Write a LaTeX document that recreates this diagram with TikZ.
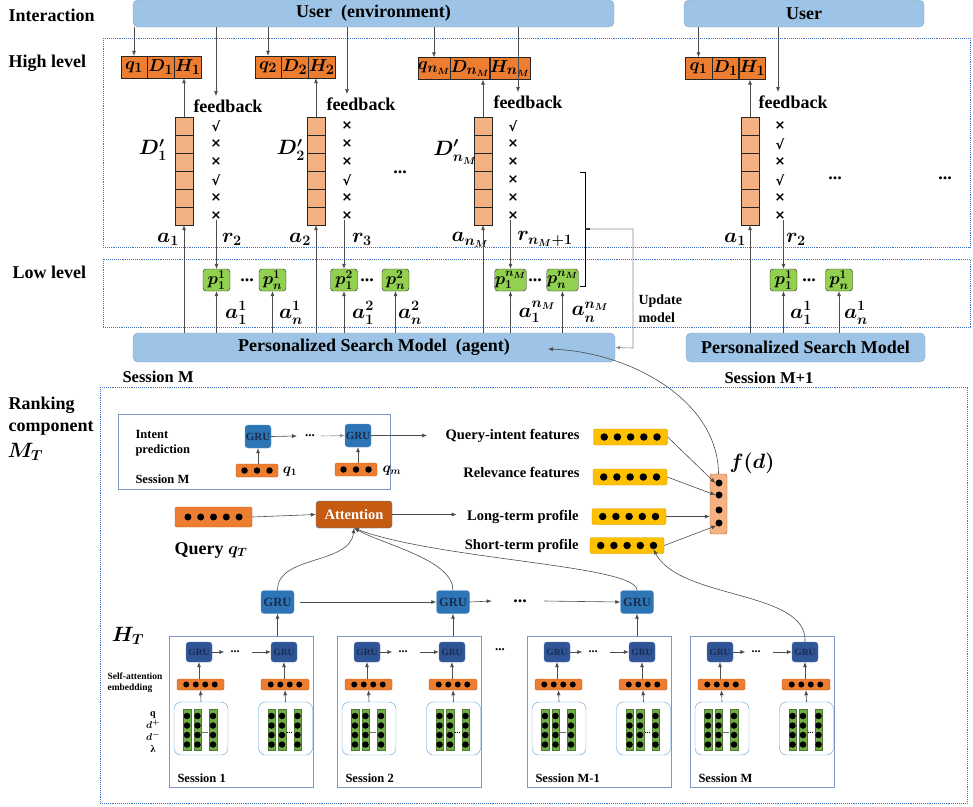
\documentclass[tikz,border=0pt]{standalone}
\usepackage{amsmath}
\usepackage{bm}
\usepackage[no-math]{fontspec}
\setmainfont{Liberation Serif}
\newfontfamily\symf{DejaVu Sans}
\usepackage{tikz}
\usetikzlibrary{positioning, arrows.meta, calc}

\definecolor{barblue}{HTML}{9DC3E6}
\definecolor{zoneblue}{HTML}{4472C4}
\definecolor{qorange}{HTML}{ED7D31}
\definecolor{cellorange}{HTML}{F4B183}
\definecolor{pgreen}{HTML}{92D050}
\definecolor{grublue}{HTML}{2E75B6}
\definecolor{grudark}{HTML}{2F5597}
\definecolor{grutext}{HTML}{1A2B4F}
\definecolor{attorange}{HTML}{C55A11}
\definecolor{featyellow}{HTML}{FFC000}
\definecolor{boxgray}{HTML}{7F96C8}
\definecolor{matblue}{HTML}{5B9BD5}
\definecolor{colgreen}{HTML}{70AD47}

\begin{document}
\begin{tikzpicture}[x=1pt, y=-1pt,
	lbl/.style={font=\boldmath\bfseries\fontsize{18}{20}\selectfont},
	mlbl/.style={font=\boldmath\fontsize{20}{22}\selectfont},
	smlbl/.style={font=\bfseries\fontsize{14.5}{18}\selectfont},
	tnlbl/.style={font=\bfseries\fontsize{12.5}{15}\selectfont},
	ubar/.style={draw=barblue!85!black, fill=barblue, rounded corners=5pt, inner sep=0pt},
	zone/.style={draw=zoneblue, densely dotted, line width=0.9pt},
	qdh/.style={draw=black!85, fill=qorange, minimum width=26.5pt, minimum height=22pt, inner sep=0pt, font=\boldmath\fontsize{19}{20}\selectfont},
	cell/.style={draw=black!85, fill=cellorange, minimum width=18pt, minimum height=18pt, inner sep=0pt},
	pbox/.style={draw=black!85, fill=pgreen, rounded corners=3pt, minimum width=27pt, minimum height=22pt, inner sep=0pt, font=\boldmath\fontsize{17.5}{18}\selectfont},
	chk/.style={font=\symf\bfseries\fontsize{13}{14}\selectfont, inner sep=0pt},
	gru/.style={fill=grublue, draw=grublue!75!white, rounded corners=3pt, inner sep=0pt, text=grutext, font=\bfseries\fontsize{12.5}{13}\selectfont, minimum width=33pt, minimum height=23pt},
	sgru/.style={gru, fill=grudark, draw=grudark!75!white, minimum width=26pt, minimum height=20pt, font=\bfseries\fontsize{9.5}{10}\selectfont},
	emb/.style={fill=qorange, draw=attorange, rounded corners=1.5pt, inner sep=0pt},
	feat/.style={fill=featyellow, draw=featyellow!80!black, rounded corners=2pt, minimum width=74pt, minimum height=16pt, inner sep=0pt},
	bdot/.style={circle, fill=black, inner sep=0pt, minimum size=6pt},
	arr/.style={-{Latex[length=5pt,width=4pt]}, black!70, line width=0.6pt},
	]
	\useasboundingbox (0,0) rectangle (973,806);
	
	% bars
	\node[ubar, lbl, minimum width=481pt, minimum height=27pt] (userL) at (373.5,13.5) {User\ \ (environment)};
	\node[ubar, lbl, minimum width=240pt, minimum height=27pt] (userR) at (804,13.5) {User};
	\node[ubar, lbl, minimum width=482pt, minimum height=29pt] (psmL) at (374,347.5) {Personalized Search Model\ \ (agent)};
	\node[ubar, lbl, minimum width=239pt, minimum height=29pt] (psmR) at (805.5,347.5) {Personalized Search Model};
	
	% zones
	\draw[zone] (103,38) rectangle (970,247);
	\draw[zone] (103,259) rectangle (970,327);
	\draw[zone] (100,387) rectangle (967,803);
	
	\node[lbl, anchor=west] (tInter) at (5,15) {Interaction};
	\node[lbl, anchor=west] (tHigh) at (5,63) {High level};
	\node[lbl, anchor=west] (tLow) at (9,272) {Low level};
	\node[lbl, anchor=west] (tRank1) at (5,405) {Ranking};
	\node[lbl, anchor=west] (tRank2) at (5,428) {component};
	\node[mlbl, anchor=west] (tRank3) at (4,452) {$\bm{M_T}$};
	\node[lbl, font=\bfseries\fontsize{16.5}{18}\selectfont, anchor=west] (tSessM) at (119,377) {Session M};
	\node[lbl, font=\bfseries\fontsize{16.5}{18}\selectfont, anchor=west] (tSessN) at (721,378) {Session M+1};
	
	% session M -- query 1
	\node[qdh] (qA) at (134,67) {$\bm{q_1}$};
	\node[qdh, right=0pt of qA] (dA) {$\bm{D_1}$};
	\node[qdh, right=0pt of dA] (hA) {$\bm{H_1}$};
	\foreach \i/\m in {1/√,2/×,3/×,4/√,5/×,6/×} {
		\node[cell] (cA\i) at (184,108+18*\i) {};
		\node[chk] (kA\i) at (216,108+18*\i) {\m};
	}
	\node[mlbl] (dpA) at (153,150) {$\bm{D'_1}$};
	\node[lbl] (fbA) at (228,106) {feedback};
	\node[mlbl] (aA) at (168,239) {$\bm{a_1}$};
	\node[mlbl] (rA) at (232,239) {$\bm{r_2}$};
	\node[pbox] (pA1) at (216.5,280) {$\bm{p_1^1}$};
	\node[lbl] (eA) at (247,280) {...};
	\node[pbox] (pAn) at (272.5,280) {$\bm{p_n^1}$};
	\node[mlbl] (aA1) at (236,313) {$\bm{a_1^1}$};
	\node[mlbl] (aAn) at (291,313) {$\bm{a_n^1}$};
	\draw[arr] (userL.south -| qA.north) -- (qA.north);
	\draw[arr] (userL.south -| kA1) -- (kA1 |- fbA.north);
	\draw[arr] (cA1.north) -- (cA1.north |- hA.south);
	\draw[arr] (psmL.north -| cA6.south) -- (cA6.south);
	\draw[arr] (kA6.south -| pA1.north) -- (pA1.north);
	\draw[arr] (psmL.north -| pA1.south) -- (pA1.south);
	\draw[arr] (psmL.north -| pAn.south) -- (pAn.south);
	
	% session M -- query 2
	\node[qdh] (qB) at (268,67) {$\bm{q_2}$};
	\node[qdh, right=0pt of qB] (dB) {$\bm{D_2}$};
	\node[qdh, right=0pt of dB] (hB) {$\bm{H_2}$};
	\foreach \i/\m in {1/×,2/×,3/×,4/√,5/×,6/×} {
		\node[cell] (cB\i) at (316,108+18*\i) {};
		\node[chk] (kB\i) at (347,108+18*\i) {\m};
	}
	\node[mlbl] (dpB) at (291,150) {$\bm{D'_2}$};
	\node[lbl] (fbB) at (361,104) {feedback};
	\node[mlbl] (aB) at (300,239) {$\bm{a_2}$};
	\node[mlbl] (rB) at (362,239) {$\bm{r_3}$};
	\node[pbox] (pB1) at (344,280) {$\bm{p_1^2}$};
	\node[lbl] (eB) at (367,280) {...};
	\node[pbox] (pBn) at (395.5,280) {$\bm{p_n^2}$};
	\node[mlbl] (aB1) at (363,313) {$\bm{a_1^2}$};
	\node[mlbl] (aBn) at (410,313) {$\bm{a_n^2}$};
	\draw[arr] (userL.south -| qB.north) -- (qB.north);
	\draw[arr] (userL.south -| kB1) -- (kB1 |- fbB.north);
	\draw[arr] (cB1.north) -- (cB1.north |- hB.south);
	\draw[arr] (psmL.north -| cB6.south) -- (cB6.south);
	\draw[arr] (kB6.south -| pB1.north) -- (pB1.north);
	\draw[arr] (psmL.north -| pB1.south) -- (pB1.south);
	\draw[arr] (psmL.north -| pBn.south) -- (pBn.south);
	\node[lbl] (eAB) at (400,172) {...};
	
	% session M -- query n_M
	\node[qdh, minimum width=30pt] (qC) at (434,68.5) {$\bm{q_{n_M}}$};
	\node[qdh, minimum width=28pt, right=0pt of qC] (dC) {$\bm{D_{n_M}}$};
	\node[qdh, minimum width=28pt, right=0pt of dC] (hC) {$\bm{H_{n_M}}$};
	\foreach \i/\m in {1/√,2/×,3/×,4/×,5/×,6/×} {
		\node[cell] (cC\i) at (483,108+18*\i) {};
		\node[chk] (kC\i) at (513,108+18*\i) {\m};
	}
	\node[mlbl] (dpC) at (455,152) {$\bm{D'_{n_M}}$};
	\node[lbl] (fbC) at (528,102) {feedback};
	\node[mlbl] (aC) at (470,240) {$\bm{a_{n_M}}$};
	\node[mlbl] (rC) at (545,239) {$\bm{r_{n_M+1}}$};
	\node[pbox] (pC1) at (510.5,280) {$\bm{p_1^{n_M}}$};
	\node[lbl] (eC) at (535,280) {...};
	\node[pbox] (pCn) at (562.5,280) {$\bm{p_n^{n_M}}$};
	\node[mlbl] (aC1) at (537,312) {$\bm{a_1^{n_M}}$};
	\node[mlbl] (aCn) at (590,312) {$\bm{a_n^{n_M}}$};
	\coordinate (fC) at (518,92);
	\draw[arr] (userL.south -| qC.north) -- (qC.north);
	\draw[arr] (userL.south -| fC) -- (fC);
	\draw[arr] (cC1.north) -- (cC1.north |- hC.south);
	\draw[arr] (psmL.north -| cC6.south) -- (cC6.south);
	\draw[arr] (kC6.south -| pC1.north) -- (pC1.north);
	\draw[arr] (psmL.north -| pC1.south) -- (pC1.south);
	\draw[arr] (psmL.north -| pCn.south) -- (pCn.south);
	
	% update model
	\coordinate (brk) at (585,229);
	\draw[line width=0.9pt] (580,172) -- (585,172) -- (585,286) -- (580,286);
	\draw[line width=1.6pt] (brk) -- ++(5,0);
	\draw[arr, black!45] (brk) -- (633,229) -- (633,348) -- (psmL.east);
	\node[smlbl, font=\bfseries\fontsize{14}{18}\selectfont, align=left, anchor=west] (tUpd) at (635,309) {Update\\model};
	
	% session M+1
	\node[qdh] (qD) at (698.5,68.5) {$\bm{q_1}$};
	\node[qdh, right=0pt of qD] (dD) {$\bm{D_1}$};
	\node[qdh, right=0pt of dD] (hD) {$\bm{H_1}$};
	\foreach \i/\m in {1/×,2/√,3/×,4/√,5/×,6/×} {
		\node[cell] (cD\i) at (750,108+18*\i) {};
		\node[chk] (kD\i) at (780,108+18*\i) {\m};
	}
	\node[lbl] (fbD) at (793,102) {feedback};
	\node[mlbl] (aD) at (735,239) {$\bm{a_1}$};
	\node[mlbl] (rD) at (796,239) {$\bm{r_2}$};
	\node[pbox] (pD1) at (783.5,280) {$\bm{p_1^1}$};
	\node[lbl] (eD) at (809,280) {...};
	\node[pbox] (pDn) at (839,280) {$\bm{p_n^1}$};
	\node[mlbl] (aD1) at (801,313) {$\bm{a_1^1}$};
	\node[mlbl] (aDn) at (856,313) {$\bm{a_n^1}$};
	\node[lbl] (eD2) at (835,178) {...};
	\node[lbl] (eD3) at (945,178) {...};
	\coordinate (fD) at (778,92);
	\draw[arr] (userR.south -| qD.north) -- (qD.north);
	\draw[arr] (userR.south -| fD) -- (fD);
	\draw[arr] (cD1.north) -- (cD1.north |- hD.south);
	\draw[arr] (psmR.north -| cD6.south) -- (cD6.south);
	\draw[arr] (kD6.south -| pD1.north) -- (pD1.north);
	\draw[arr] (psmR.north -| pD1.south) -- (pD1.south);
	\draw[arr] (psmR.north -| pDn.south) -- (pDn.south);
	
	% ranking component: intent prediction
	\node[draw=boxgray, line width=0.8pt, minimum width=272pt, minimum height=75pt, inner sep=0pt] (intent) at (254,451.5) {};
	\node[tnlbl, align=left, anchor=west] (tIntent) at (132,443.5) {Intent\\prediction};
	\node[tnlbl, anchor=west] (tSessI) at (132,479) {Session M};
	\node[gru, minimum width=26pt, font=\bfseries\fontsize{11}{12}\selectfont] (gi1) at (258,436.5) {GRU};
	\node[gru, minimum width=26pt, font=\bfseries\fontsize{11}{12}\selectfont] (gi2) at (358,435.5) {GRU};
	\node[lbl, font=\bfseries\fontsize{13}{13}\selectfont, inner sep=0pt] (ei) at (310,436) {...};
	\draw[arr] (gi1.east) -- ([xshift=-8]ei.west);
	\draw[arr, black!40] ([xshift=6]ei.east) -- (gi2.west);
	\node[emb, minimum width=42pt, minimum height=13pt] (eq1) at (257,470.5) {};
	\node[emb, minimum width=42pt, minimum height=13pt] (eqm) at (356,469.5) {};
	\foreach \i in {-1,0,1} {
		\node[bdot, minimum size=6.5pt] at (257+12.5*\i,470.5) {};
		\node[bdot, minimum size=6.5pt] at (356+12.5*\i,469.5) {};
	}
	\node[mlbl, font=\boldmath\fontsize{14}{15}\selectfont] (tq1) at (290,472) {$\bm{q_1}$};
	\node[mlbl, font=\boldmath\fontsize{14}{15}\selectfont] (tqm) at (392,471) {$\bm{q_m}$};
	\draw[arr] (eq1.north -| gi1.south) -- (gi1.south);
	\draw[arr] (eqm.north -| gi2.south) -- (gi2.south);
	
	% features
	\node[smlbl, anchor=east] (tQI) at (583,436) {Query-intent features};
	\node[smlbl, anchor=east] (tRel) at (583,472) {Relevance features};
	\node[smlbl, anchor=east] (tLT) at (582,517) {Long-term profile};
	\node[smlbl, anchor=east] (tST) at (582,546) {Short-term profile};
	\foreach \f/\y/\xc in {fQI/437/630.5, fRel/477/630, fLT/516.5/629, fST/545.5/627} {
		\node[feat] (\f) at (\xc,\y) {};
		\foreach \i in {1,...,5}
			\node[bdot, minimum size=7.5pt] (\f\i) at (\xc-39.5+13.2*\i,\y) {};
	}
	\draw[arr, shorten >=15pt] (gi2.east) -- (gi2.east -| tQI.west);
	
	% f(d)
	\node[draw=attorange, fill=cellorange, rounded corners=2pt, minimum width=17pt, minimum height=60pt, inner sep=0pt] (fd) at (718.5,504) {};
	\foreach \i/\y in {1/483,2/495,3/510,4/523}
		\node[bdot, minimum size=7pt] (fd\i) at (719,\y) {};
	\node[mlbl] (tfd) at (752,463) {$\bm{f(d)}$};
	\draw[arr] (fQI.east) -- (fd1.west);
	\draw[arr] (fRel.east) -- (fd2.west);
	\draw[arr] (fLT.east) -- (fLT.east -| fd.west);
	\draw[arr] (fST.east) -- (fd4.south west);
	\coordinate (psmIn) at (548,349);
	\draw[arr] (fd.north) .. controls (718,400) and (630,352) .. (psmIn);
	
	% query and attention
	\node[emb, minimum width=77pt, minimum height=20pt] (qe) at (213.5,517) {};
	\foreach \i in {-2,...,2}
		\node[bdot, minimum size=7pt] at (213.5+12.8*\i,517) {};
	\node[lbl] (tQuery) at (211,550) {Query $\bm{q_T}$};
	\node[fill=attorange, draw=zoneblue, rounded corners=3pt, minimum width=76pt, minimum height=27pt, text=white, font=\bfseries\fontsize{14.5}{15}\selectfont] (att) at (354,514.5) {Attention};
	\draw[arr] (qe.east) -- (att.west);
	\draw[arr, shorten >=7pt] (att.east) -- (att.east -| tLT.west);
	
	% session level GRUs
	\node[gru] (gT1) at (277.5,602) {GRU};
	\node[gru] (gT2) at (453,602) {GRU};
	\node[gru] (gT3) at (637,602) {GRU};
	\node[lbl] (eT) at (520,601) {...};
	\draw[arr, shorten <=6pt] (gT1.east) -- (gT2.west);
	\draw[arr] (gT2.east) -- ([xshift=-18]eT.west);
	\draw[arr] ([xshift=14]eT.east) -- (gT3.west);
	\draw[arr] (gT1.north) .. controls (277,555) and (350,565) .. (att.south);
	\draw[arr] (gT2.north) .. controls (453,560) and (385,545) .. (att.south);
	\draw[arr] (gT3.north) .. controls (637,565) and (440,560) .. (att.south);
	
	% H_T
	\node[mlbl] (tHT) at (128,636) {$\bm{H_T}$};
	\node[font=\bfseries\fontsize{9.5}{11}\selectfont, align=left, anchor=west] (tSelf) at (104,682.5) {Self-attention\\embedding};
	\node[font=\boldmath\bfseries\fontsize{10}{12}\selectfont, align=center] (tIn) at (153,732) {q\\$\bm{d}^{\bm{+}}$\\$\bm{d}^{\bm{-}}$\\λ};
	\node[lbl, font=\bfseries\fontsize{13}{13}\selectfont] (eS) at (500,650) {...};
	
	\foreach \s/\x/\name in {1/169/Session 1, 2/337/Session 2, 3/527/Session M-1, 4/690/Session M} {
		\node[draw=boxgray, line width=0.8pt, minimum width=144pt, minimum height=151pt, inner sep=0pt] (s\s) at (\x+72,711.5) {};
		\node[sgru] (sga\s) at (\x+30,652) {GRU};
		\node[sgru] (sgb\s) at (\x+115,652) {GRU};
		\node[font=\bfseries\fontsize{12}{12}\selectfont, inner sep=0pt] (sdt\s) at (\x+66,652) {...};
		\draw[arr] (sga\s.east) -- ([xshift=-6]sdt\s.west);
		\draw[arr] ([xshift=12]sdt\s.east) -- (sgb\s.west);
		\node[emb, minimum width=47pt, minimum height=11pt] (sea\s) at (\x+31.5,684.5) {};
		\node[emb, minimum width=48pt, minimum height=11pt] (seb\s) at (\x+116,684.5) {};
		\foreach \d in {-1.5,-0.5,0.5,1.5} {
			\node[bdot] at (\x+31.5+9.5*\d,684.5) {};
			\node[bdot] at (\x+116+9.5*\d,684.5) {};
		}
		\node[draw=matblue, rounded corners=7pt, minimum width=54pt, minimum height=53pt, inner sep=0pt] (sma\s) at (\x+32,728.5) {};
		\node[draw=matblue, rounded corners=7pt, minimum width=54pt, minimum height=53pt, inner sep=0pt] (smb\s) at (\x+116.5,728.5) {};
		\foreach \bx in {18,28.5,44,102.5,113,128.5} {
			\node[fill=colgreen, draw=colgreen!70!black, minimum width=7.5pt, minimum height=41pt, inner sep=0pt] at (\x+\bx,729.5) {};
			\foreach \dy in {716,725.5,735,744.5}
				\node[bdot, minimum size=6.5pt] at (\x+\bx,\dy) {};
		}
		\node[font=\bfseries\fontsize{8}{8}\selectfont, inner sep=0pt] at (\x+36,733) {...};
		\node[font=\bfseries\fontsize{8}{8}\selectfont, inner sep=0pt] at (\x+120.5,733) {...};
		\draw[arr] (sma\s.north) -- (sea\s.south);
		\draw[arr] (sea\s.north -| sga\s.south) -- (sga\s.south);
		\draw[arr] (smb\s.north) -- (seb\s.south);
		\draw[arr] (seb\s.north -| sgb\s.south) -- (sgb\s.south);
		\node[tnlbl, anchor=west] at (\x+5,778) {\name};
	}
	\draw[arr] (gT1.south |- s1.north) -- (gT1.south);
	\draw[arr] (gT2.south |- s2.north) -- (gT2.south);
	\draw[arr] (gT3.south |- s3.north) -- (gT3.south);
	\draw[arr] (sgb4.north) .. controls (808,590) and (680,600) .. (fST5.south);
\end{tikzpicture}
\end{document}
